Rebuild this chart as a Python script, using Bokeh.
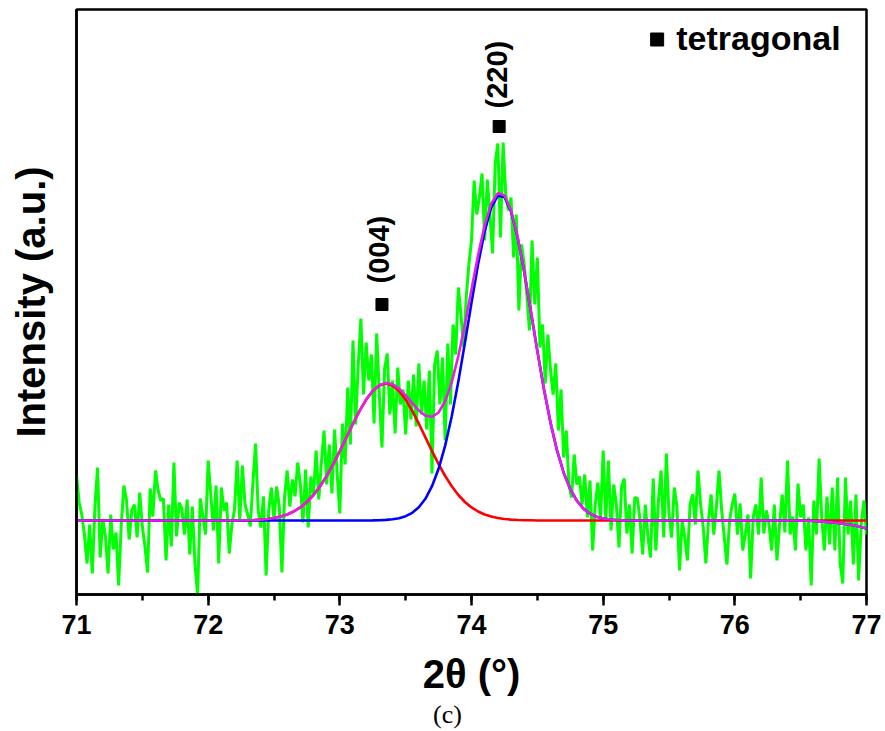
import numpy as np
from bokeh.plotting import figure
from bokeh.models import Range1d, SingleIntervalTicker, Label, Div
from bokeh.layouts import column
from bokeh.embed import file_html
from bokeh.resources import INLINE

# ---------------- data ----------------
# measured scan: 2-theta from 71.00 to 77.00 deg in 0.02 deg steps, intensity (a.u.)
scan_start = 71.0
scan_step = 0.02
counts_71_72 = [119, 92, 80, 60, 31, 70, 21, 88, 127, 37,
                75, 58, 21, 80, 45, 62, 9, 70, 109, 94,
                55, 84, 90, 57, 102, 68, 48, 22, 106, 78,
                124, 104, 94, 96, 34, 90, 48, 132, 58, 92,
                86, 60, 95, 40, 88, 30, 0, 96, 78, 60]
counts_72_726 = [134, 100, 64, 109, 31, 107, 84, 92, 41, 70,
                 85, 134, 74, 129, 90, 80, 68, 112, 151, 84,
                 67, 98, 19, 84, 107, 74, 108, 88, 22, 97]
counts_726_7393 = [124, 88, 115, 98, 132, 110, 72, 125, 67, 118,
                   100, 144, 95, 132, 164, 110, 150, 101, 165, 120,
                   81, 171, 130, 207, 150, 254, 170, 230, 276, 200,
                   252, 214, 240, 171, 261, 200, 147, 226, 241, 180,
                   214, 161, 227, 190, 205, 160, 214, 175, 220, 168,
                   231, 180, 214, 165, 224, 121, 230, 244, 190, 237,
                   154, 251, 190, 270, 240, 307, 280]
counts_7394_75 = [247, 297, 330, 354, 414, 380, 397, 421, 354, 415,
                  380, 341, 431, 451, 357, 452, 400, 384, 397, 337,
                  380, 284, 350, 330, 300, 264, 354, 290, 337, 247,
                  270, 211, 260, 225, 200, 231, 164, 205, 137, 164,
                  110, 97, 140, 110, 118, 90, 120, 77, 114, 44,
                  90, 112, 75]
counts_75_758 = [144, 74, 134, 64, 110, 90, 47, 108, 116, 61,
                 90, 41, 97, 96, 74, 40, 90, 58, 37, 116,
                 44, 94, 124, 57, 141, 80, 57, 107, 88, 24,
                 74, 57, 34, 90, 100, 70, 124, 90, 67, 31,
                 74]
counts_758_77 = [100, 60, 88, 124, 84, 57, 30, 74, 90, 101,
                 60, 91, 44, 61, 80, 16, 78, 90, 60, 117,
                 61, 84, 70, 44, 90, 34, 70, 100, 62, 134,
                 60, 78, 44, 111, 77, 90, 44, 77, 9, 94,
                 60, 136, 77, 44, 98, 50, 107, 44, 117, 31,
                 11, 117, 60, 94, 30, 100, 14, 70, 94, 60]
intensity = (counts_71_72 + counts_72_726 + counts_726_7393 +
             counts_7394_75 + counts_75_758 + counts_758_77)
two_theta = scan_start + scan_step * np.arange(len(intensity))

# fitted curves (two peaks + their sum)
fit_two_theta = [71.00, 72.20,
                 72.25, 72.30, 72.35, 72.40, 72.45, 72.50, 72.55, 72.60, 72.65, 72.70,
                 72.75, 72.80, 72.85, 72.90, 72.95, 73.00, 73.05, 73.10, 73.15, 73.20,
                 73.25, 73.30, 73.35, 73.40, 73.45, 73.50, 73.55, 73.60, 73.65, 73.70,
                 73.75, 73.80, 73.85, 73.90, 73.95, 74.00, 74.05, 74.10, 74.15, 74.20,
                 74.25, 74.30, 74.35, 74.40, 74.45, 74.50, 74.55, 74.60, 74.65, 74.70,
                 74.75, 74.80, 74.85, 74.90, 74.95, 75.00, 75.05, 75.10, 75.15, 75.20,
                 76.50, 76.55, 76.60, 76.65, 76.70, 76.75, 76.80, 76.85, 76.90, 76.95, 77.00]
fit_004 = [74, 74,
           74.2, 74.3, 74.5, 74.9, 75.5, 76.5, 77.9, 80.0, 83.0, 87.1,
           92.5, 99.5, 108.2, 118.5, 130.3, 143.4, 157.1, 170.8, 183.7, 194.9,
           203.6, 209.1, 211.0, 209.1, 203.6, 194.9, 183.7, 170.8, 157.1, 143.4,
           130.3, 118.5, 108.2, 99.5, 92.5, 87.1, 83.0, 80.0, 77.9, 76.5,
           75.5, 74.9, 74.5, 74.3, 74.2, 74.0, 74.0, 74.0, 74.0, 74.0,
           74.0, 74.0, 74.0, 74.0, 74.0, 74.0, 74.0, 74.0, 74.0, 74.0,
           74.0, 74.0, 74.0, 74.0, 74.0, 74.0, 74.0, 74.0, 74.0, 74.0, 74.0]
fit_220 = [74, 74,
           74.0, 74.0, 74.0, 74.0, 74.0, 74.0, 74.0, 74.0, 74.0, 74.0,
           74.0, 74.0, 74.0, 74.0, 74.0, 74.0, 74.0, 74.0, 74.0, 74.0,
           74.1, 74.3, 74.6, 75.2, 76.3, 78.3, 81.7, 87.2, 95.7, 108.3,
           125.7, 148.9, 178.2, 212.9, 251.6, 291.8, 330.2, 363.1, 387.0, 398.9,
           397.6, 383.1, 357.2, 322.9, 283.8, 243.6, 205.5, 171.9, 143.8, 121.8,
           105.4, 93.8, 85.9, 80.9, 77.8, 76.0, 75.0, 74.5, 74.2, 74.0,
           74.0, 73.8, 73.5, 73.1, 72.6, 72.0, 71.2, 70.3, 69.2, 67.8, 66.0]
fit_sum = [74, 74,
           74.2, 74.3, 74.5, 74.9, 75.5, 76.5, 77.9, 80.0, 83.0, 87.1,
           92.5, 99.5, 108.2, 118.5, 130.3, 143.4, 157.1, 170.8, 183.7, 194.9,
           203.7, 209.4, 211.6, 210.3, 205.9, 199.2, 191.4, 184.0, 178.8, 177.7,
           182.0, 193.4, 212.4, 238.4, 270.1, 304.9, 339.2, 369.1, 390.9, 401.4,
           399.1, 384.0, 357.7, 323.2, 284.0, 243.6, 205.5, 171.9, 143.8, 121.8,
           105.4, 93.8, 85.9, 80.9, 77.8, 76.0, 75.0, 74.5, 74.2, 74.0,
           74.0, 73.8, 73.5, 73.1, 72.6, 72.0, 71.2, 70.3, 69.2, 67.8, 66.0]

# peak markers (tetragonal phase)
peak_labels = ["(004)", "(220)"]
peak_positions = [73.32, 74.21]
peak_marker_heights = [290, 468]
peak_label_heights = [311, 486]

x_ticks_min, x_ticks_max = 71, 77

# ---------------- figure ----------------
FONT = "Liberation Sans"
p = figure(width=885, height=705,
           x_range=Range1d(x_ticks_min, x_ticks_max), y_range=Range1d(0, 585),
           output_backend="svg", toolbar_location=None,
           min_border_left=76, min_border_right=19,
           min_border_top=9, min_border_bottom=111)
p.background_fill_color = "white"
p.border_fill_color = "white"
p.outline_line_color = "black"
p.outline_line_width = 2.5
p.xgrid.visible = False
p.ygrid.visible = False

p.line(two_theta, intensity, line_color="#00FF00", line_width=3)
p.line(fit_two_theta, fit_004, line_color="#FF0000", line_width=2.6)
p.line(fit_two_theta, fit_220, line_color="#0000FF", line_width=2.6)
p.line(fit_two_theta, fit_sum, line_color="#E61EE6", line_width=2.6)

p.scatter(peak_positions, peak_marker_heights, marker="square", size=12,
          color="black")
for lab, xp, yl in zip(peak_labels, peak_positions, peak_label_heights):
    p.add_layout(Label(x=xp - 0.02, y=yl, text=lab, angle=np.pi / 2,
                       text_align="left", text_baseline="middle",
                       text_font=FONT, text_font_style="bold",
                       text_font_size="29px", text_color="black"))

# legend: "■ tetragonal"
p.scatter([75.41], [555], marker="square", size=13, color="black")
p.add_layout(Label(x=75.555, y=557, text="tetragonal", text_align="left",
                   text_baseline="middle", text_font=FONT,
                   text_font_style="bold", text_font_size="34px",
                   text_color="black"))

# axes
xa = p.xaxis[0]
xa.ticker = SingleIntervalTicker(interval=1, num_minor_ticks=2)
xa.axis_line_width = 2.5
xa.major_tick_line_width = 2.5
xa.minor_tick_line_width = 2.5
xa.major_tick_out = 11
xa.major_tick_in = 0
xa.minor_tick_out = 6
xa.minor_tick_in = 0
xa.major_label_text_font = FONT
xa.major_label_text_font_style = "bold"
xa.major_label_text_font_size = "27px"
xa.major_label_text_color = "black"
xa.major_label_standoff = 9
xa.axis_label = "2θ (°)"
xa.axis_label_text_font = FONT
xa.axis_label_text_font_style = "bold"
xa.axis_label_text_font_size = "40px"
xa.axis_label_text_color = "black"
xa.axis_label_standoff = 15

ya = p.yaxis[0]
ya.ticker = []
ya.axis_line_width = 2.5
ya.major_tick_line_color = None
ya.minor_tick_line_color = None
ya.major_label_text_font_size = "0px"
ya.axis_label = "Intensity (a.u.)"
ya.axis_label_text_font = FONT
ya.axis_label_text_font_style = "bold"
ya.axis_label_text_font_size = "40px"
ya.axis_label_text_color = "black"
ya.axis_label_standoff = 24

# panel caption below the chart
caption = Div(
    text=("<div style=\"position:relative;top:-7px;width:885px;margin:0;padding:0;"
          "text-align:center;font-family:'Liberation Serif',serif;"
          "font-size:26px;line-height:24px;color:black;\">(c)</div>"),
    width=885, height=26)

layout = column(p, caption, spacing=0)
open("out.html", "w").write(file_html(layout, INLINE))
